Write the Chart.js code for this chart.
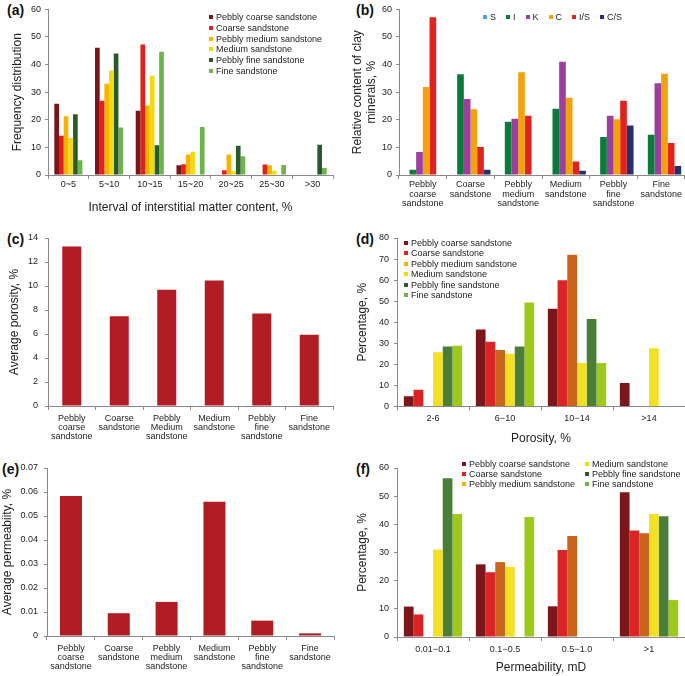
<!DOCTYPE html>
<html>
<head>
<meta charset="utf-8">
<script src="https://cdn.jsdelivr.net/npm/chart.js@4.4.0/dist/chart.umd.min.js"></script>
<style>
  body { margin:0; background:#fff; width:685px; height:676px; position:relative; overflow:hidden; font-family:"Liberation Sans", Arial, sans-serif; }
  .tag { position:absolute; font-weight:bold; font-size:14px; line-height:14px; color:#111; }
  .legend { position:absolute; font-size:9px; color:#222; }
  .legend .item { display:flex; align-items:center; white-space:nowrap; }
  .legend .box { width:4px; height:4px; margin-right:3px; flex:none; }
</style>
</head>
<body>
<div class="tag" style="left:7px;top:3px">(a)</div>
<div class="tag" style="left:356px;top:3px">(b)</div>
<div class="tag" style="left:7px;top:232px">(c)</div>
<div class="tag" style="left:356px;top:232px">(d)</div>
<div class="tag" style="left:2px;top:462px">(e)</div>
<div class="tag" style="left:356px;top:462px">(f)</div>
<script>
// rock types used in (a), (d), (f)
const rockNames = ['Pebbly coarse sandstone', 'Coarse sandstone', 'Pebbly medium sandstone',
                   'Medium sandstone', 'Pebbly fine sandstone', 'Fine sandstone'];

// (a) frequency vs interstitial matter content
const intervals = ['0~5', '5~10', '10~15', '15~20', '20~25', '25~30', '>30'];
const freqPebblyCoarse = [25.8, 46.1, 23.3, 3.5, 0, 0, 0];
const freqCoarse       = [14.2, 26.9, 47.3, 3.9, 1.7, 3.8, 0];
const freqPebblyMedium = [21.3, 33.1, 25.2, 7.4, 7.4, 3.5, 0];
const freqMedium       = [13.4, 37.8, 36.0, 8.4, 1.4, 1.5, 0];
const freqPebblyFine   = [22.0, 44.0, 10.8, 0, 10.6, 0, 11.0];
const freqFine         = [5.3, 17.2, 44.7, 17.4, 6.8, 3.6, 2.5];

// (b) clay minerals
const clayNames = ['S', 'I', 'K', 'C', 'I/S', 'C/S'];
const rockLabelsB = [['Pebbly', 'coarse', 'sandstone'], ['Coarse', 'sandstone'], ['Pebbly', 'medium', 'sandstone'],
                     ['Medium', 'sandstone'], ['Pebbly', 'fine', 'sandstone'], ['Fine', 'sandstone']];
const clayS  = [0, 0, 0, 0, 0, 0];
const clayI  = [1.9, 36.5, 19.3, 24.0, 13.8, 14.6];
const clayK  = [8.3, 27.5, 20.4, 41.0, 21.5, 33.2];
const clayC  = [31.9, 23.8, 37.2, 28.0, 20.2, 36.7];
const clayIS = [57.2, 10.1, 21.5, 4.9, 26.9, 11.6];
const clayCS = [0, 1.9, 0, 1.5, 17.9, 3.3];

// (c) average porosity
const rockLabelsC = [['Pebbly', 'coarse', 'sandstone'], ['Coarse', 'sandstone'], ['Pebbly', 'Medium', 'sandstone'],
                     ['Medium', 'sandstone'], ['Pebbly', 'fine', 'sandstone'], ['Fine', 'sandstone']];
const avgPorosity = [13.3, 7.47, 9.68, 10.46, 7.70, 5.94];

// (d) porosity distribution
const porosityBins = ['2-6', '6\u221210', '10\u221214', '>14'];
const poroPebblyCoarse = [4.9, 36.6, 46.4, 11.2];
const poroCoarse       = [7.9, 30.7, 60.0, 0];
const poroPebblyMedium = [0, 26.8, 72.0, 0];
const poroMedium       = [25.8, 25.0, 20.7, 27.6];
const poroPebblyFine   = [28.5, 28.5, 41.5, 0];
const poroFine         = [28.8, 49.4, 20.7, 0];

// (e) average permeability
const rockLabelsE = rockLabelsB;
const avgPermeability = [0.0583, 0.0095, 0.0142, 0.0559, 0.0064, 0.0011];

// (f) permeability distribution
const permBins = ['0.01\u22120.1', '0.1\u22120.5', '0.5\u22121.0', '>1'];
const permPebblyCoarse = [10.8, 25.8, 10.9, 51.4];
const permCoarse       = [8.0, 23.0, 30.9, 37.8];
const permPebblyMedium = [0, 26.6, 35.9, 36.8];
const permMedium       = [31.1, 24.9, 0, 43.7];
const permPebblyFine   = [56.4, 0, 0, 42.9];
const permFine         = [43.7, 42.6, 0, 13.1];

// colours
const colorsA = ['#7a1519', '#e2211f', '#f6b300', '#efdc0a', '#2b5a2a', '#6db44a'];
const colorsDF = ['#7b161b', '#db2426', '#c8641c', '#f1e024', '#4b7e39', '#9ec81a'];
const clayColors = ['#4ba3dc', '#0b7b3c', '#9c3f9e', '#f2a20c', '#e1231f', '#22306d'];
const avgColor = '#b01d24';

const FONT = '"Liberation Sans", Arial, sans-serif';
const AXIS = '#8a8a8a';
const TXT = '#222';

// box = canvas [left, top, w, h], area = plot [left, top, right, bottom], page coords
function barPanel(o) {
    const [bx, by, bw, bh] = o.box;
    const [al, at, ar, ab] = o.area;
    const cv = document.createElement('canvas');
    cv.width = bw; cv.height = bh;
    cv.style.cssText = `position:absolute;left:${bx}px;top:${by}px;width:${bw}px;height:${bh}px`;
    document.body.appendChild(cv);
    return new Chart(cv, {
        type: 'bar',
        data: {
            labels: o.labels,
            datasets: o.series.map((d, i) => ({
                label: o.names[i], data: d, backgroundColor: o.colors[i], borderWidth: 0,
                categoryPercentage: o.frac, barPercentage: 1
            }))
        },
        options: {
            responsive: false, animation: false, devicePixelRatio: 1,
            layout: { padding: { left: 0, top: at - by, right: bx + bw - ar, bottom: 0 } },
            plugins: { legend: { display: false }, tooltip: { enabled: false } },
            scales: {
                x: {
                    grid: { display: true, drawOnChartArea: false, drawTicks: true, tickLength: 4, color: AXIS, offset: true },
                    border: { color: AXIS },
                    ticks: { color: TXT, font: { family: FONT, size: 9, lineHeight: 1.03 }, padding: o.xPad, maxRotation: 0, autoSkip: false },
                    title: o.xTitle ? { display: true, text: o.xTitle, color: TXT, font: { family: FONT, size: 12 }, padding: { top: 0, bottom: o.xTitlePad } } : { display: false },
                    afterFit: s => { s.height = by + bh - ab; }
                },
                y: {
                    min: 0, max: o.yMax,
                    grid: { display: true, drawOnChartArea: false, drawTicks: true, tickLength: 3, color: AXIS },
                    border: { color: AXIS },
                    ticks: { stepSize: o.yStep, color: TXT, font: { family: FONT, size: 9 }, padding: o.yPad, callback: o.yFmt || (v => v) },
                    title: { display: true, text: o.yTitle, color: TXT, font: { family: FONT, size: 12, lineHeight: 1.17 }, padding: { top: o.yTitlePad, bottom: 0 } },
                    afterFit: s => { s.width = al - bx; }
                }
            }
        }
    });
}

function legend(left, top, names, colors, rowH, cols) {
    const el = document.createElement('div');
    el.className = 'legend';
    el.style.left = left + 'px';
    el.style.top = top + 'px';
    names.forEach((n, i) => {
        const it = document.createElement('div');
        it.className = 'item';
        it.style.height = rowH + 'px';
        it.innerHTML = `<span class="box" style="background:${colors[i]}"></span>${n}`;
        el.appendChild(it);
    });
    if (cols) {
        el.style.display = 'grid';
        el.style.gridTemplateColumns = cols;
        el.style.gridTemplateRows = `repeat(3, ${rowH}px)`;
        el.style.gridAutoFlow = 'column';
    }
    document.body.appendChild(el);
}

window.onload = function() {
    barPanel({ box: [0, 0, 340, 216], area: [48, 8, 333, 175], labels: intervals, names: rockNames, colors: colorsA,
        series: [freqPebblyCoarse, freqCoarse, freqPebblyMedium, freqMedium, freqPebblyFine, freqFine],
        frac: 0.69, yMax: 60, yStep: 10, yPad: 4, xPad: 1.3,
        yTitle: 'Frequency distribution', yTitlePad: 11,
        xTitle: 'Interval of interstitial matter content, %', xTitlePad: 1.5 });

    barPanel({ box: [340, 0, 345, 216], area: [399, 7, 685, 175], labels: rockLabelsB, names: clayNames, colors: clayColors,
        series: [clayS, clayI, clayK, clayC, clayIS, clayCS],
        frac: 0.84, yMax: 60, yStep: 10, yPad: 4, xPad: 1.3,
        yTitle: ['Relative content of clay', 'minerals, %'], yTitlePad: 11 });

    barPanel({ box: [0, 216, 340, 230], area: [48, 238, 333, 406], labels: rockLabelsC, names: ['Average porosity'], colors: [avgColor],
        series: [avgPorosity],
        frac: 0.40, yMax: 14, yStep: 2, yPad: 7, xPad: 3.6,
        yTitle: 'Average porosity, %', yTitlePad: 7.5 });

    barPanel({ box: [340, 216, 345, 230], area: [397, 238, 685, 406.5], labels: porosityBins, names: rockNames, colors: colorsDF,
        series: [poroPebblyCoarse, poroCoarse, poroPebblyMedium, poroMedium, poroPebblyFine, poroFine],
        frac: 0.81, yMax: 80, yStep: 10, yPad: 5, xPad: 3.1,
        yTitle: 'Percentage, %', yTitlePad: 15.3,
        xTitle: 'Porosity, %', xTitlePad: 0.5 });

    barPanel({ box: [0, 442, 340, 234], area: [47, 468, 334, 636], labels: rockLabelsE, names: ['Average permeability'], colors: [avgColor],
        series: [avgPermeability],
        frac: 0.46, yMax: 0.07, yStep: 0.01, yPad: 6, xPad: 3.6,
        yFmt: v => (v === 0 ? '0' : v.toFixed(2)),
        yTitle: 'Average permeabiity, %', yTitlePad: 0.6 });

    barPanel({ box: [340, 442, 345, 234], area: [397, 468, 685, 637], labels: permBins, names: rockNames, colors: colorsDF,
        series: [permPebblyCoarse, permCoarse, permPebblyMedium, permMedium, permPebblyFine, permFine],
        frac: 0.81, yMax: 60, yStep: 10, yPad: 5, xPad: 4.3,
        yTitle: 'Percentage, %', yTitlePad: 15.3,
        xTitle: 'Permeability, mD', xTitlePad: 0.8 });

    legend(209, 12, rockNames, colorsA, 10.7);
    legend(404, 237.5, rockNames, colorsA, 10.5);
    legend(462, 459.3, rockNames, colorsA, 10, '123px auto');

    const lb = document.createElement('div');
    lb.className = 'legend';
    lb.style.cssText = 'left:483px;top:11.7px;display:flex;gap:10px;';
    clayNames.forEach((n, i) => {
        lb.innerHTML += `<div class="item" style="height:10px"><span class="box" style="background:${clayColors[i]}"></span>${n}</div>`;
    });
    document.body.appendChild(lb);
};
</script>
</body>
</html>
